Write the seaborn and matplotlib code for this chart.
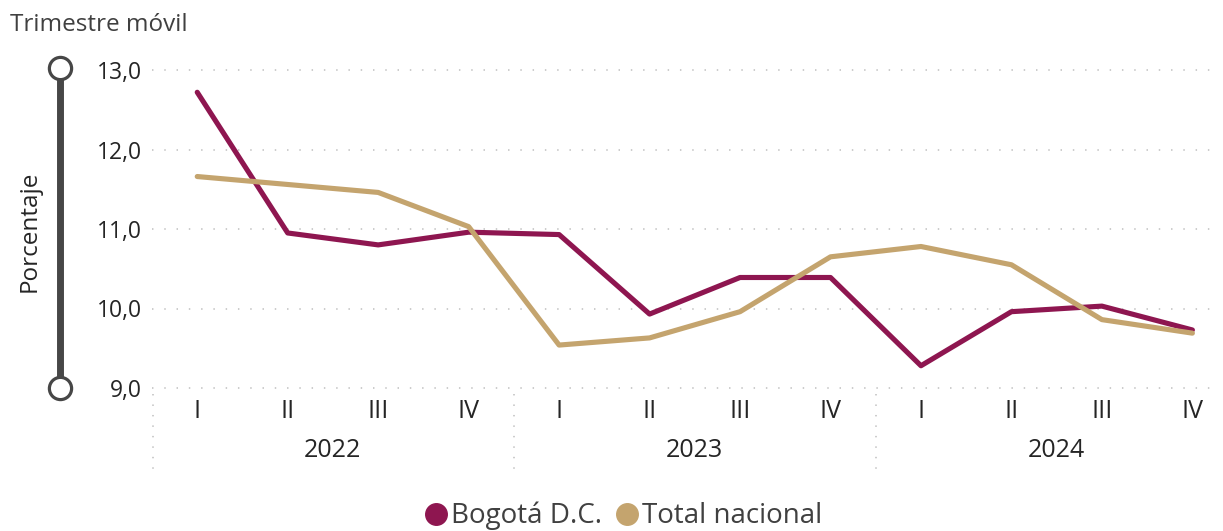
import numpy as np
import pandas as pd
import seaborn as sns
import matplotlib
matplotlib.use("Agg")
import matplotlib.pyplot as plt
from matplotlib.lines import Line2D

# data
years = ["2022", "2023", "2024"]
quarters = ["I", "II", "III", "IV"]
bogota = [12.72, 10.95, 10.80, 10.96, 10.93, 9.93, 10.39, 10.39, 9.28, 9.96, 10.03, 9.73]
nacional = [11.66, 11.56, 11.46, 11.03, 9.54, 9.63, 9.96, 10.65, 10.78, 10.55, 9.86, 9.69]
series_names = ["Bogotá D.C.", "Total nacional"]
colors = ["#8E1650", "#C4A46E"]

n = len(bogota)
df = pd.DataFrame({
    "idx": list(range(n)) * 2,
    "valor": bogota + nacional,
    "serie": [series_names[0]] * n + [series_names[1]] * n,
})

sns.set_theme(style="white")
plt.rcParams["font.family"] = ["Open Sans", "DejaVu Sans"]

W, H = 1223, 531
fig = plt.figure(figsize=(W / 100, H / 100), dpi=100)
ax = fig.add_axes([152 / W, 1 - 388 / H, (1215 - 152) / W, (388 - 70) / H])

sns.lineplot(data=df, x="idx", y="valor", hue="serie", palette=colors,
             linewidth=3.7, ax=ax, legend=False, clip_on=False)

ax.set_ylim(9, 13)
ax.set_xlim(-0.5, 11.25)
ax.set_yticks([9, 10, 11, 12, 13])
ax.set_yticklabels([f"{v:.1f}".replace(".", ",") for v in [9, 10, 11, 12, 13]])
ax.set_xticks(range(n))
ax.set_xticklabels(quarters * len(years))
ax.tick_params(axis="both", length=0, colors="#252525")
ax.tick_params(axis="y", pad=7, labelsize=16.5)
ax.tick_params(axis="x", pad=8, labelsize=18)
ax.set_xlabel("")
ax.set_ylabel("")
for s in ax.spines.values():
    s.set_visible(False)

# dotted horizontal grid
for v in [9, 10, 11, 12, 13]:
    ax.plot([-0.5, 11.25], [v, v], color="#c8c8c8", lw=1.3,
            linestyle=(0, (0.8, 6)), zorder=0, clip_on=False)

# year labels and group separators
trans = ax.get_xaxis_transform()
for i, y in enumerate(years):
    ax.text(i * 4 + 1.5, -0.195, y, transform=trans, ha="center", va="center",
            fontsize=18, color="#252525")
for xs in [-0.49, 3.5, 7.5]:
    ax.plot([xs, xs], [-0.02, -0.26], transform=trans, color="#c8c8c8",
            lw=1.3, linestyle=(0, (0.8, 5)), clip_on=False)

# left decorative bar
bx = 60 / W
fig.add_artist(Line2D([bx, bx], [1 - 68 / H, 1 - 388 / H], transform=fig.transFigure,
                      color="#474747", lw=5, solid_capstyle="butt", zorder=1))
fig.add_artist(Line2D([bx, bx], [1 - 68 / H, 1 - 388 / H], transform=fig.transFigure,
                      linestyle="none", marker="o", markersize=16,
                      markerfacecolor="white", markeredgecolor="#474747",
                      markeredgewidth=2.3, zorder=2))

fig.text(30 / W, 1 - 231 / H, "Porcentaje", rotation=90, ha="center", va="center",
         fontsize=17.5, color="#252525")
fig.text(10 / W, 1 - 25 / H, "Trimestre móvil", ha="left", va="center",
         fontsize=17.5, color="#404040")

handles = [Line2D([], [], linestyle="none", marker="o", markersize=15.5,
                  markerfacecolor=c, markeredgecolor=c) for c in colors]
fig.legend(handles, series_names, loc="center", bbox_to_anchor=(0.503, 1 - 516 / H),
           ncol=2, frameon=False, fontsize=20, handletextpad=-0.45,
           columnspacing=-0.1, labelcolor="#404040", borderaxespad=0)

fig.savefig("out.png", dpi=100)
